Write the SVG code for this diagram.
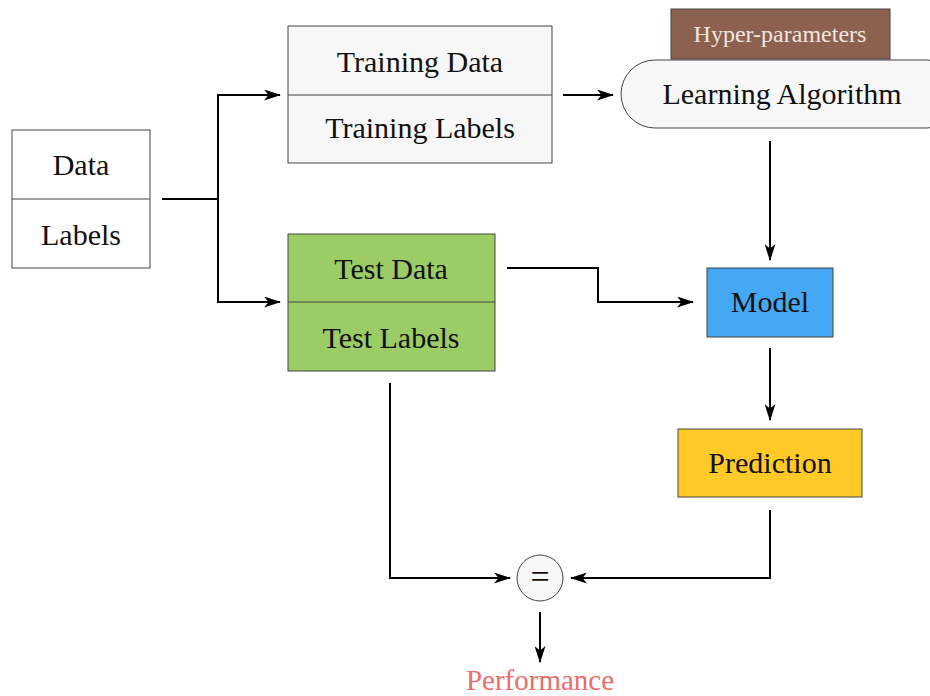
<svg xmlns="http://www.w3.org/2000/svg" width="930" height="696" viewBox="0 0 930 696">
<defs>
<marker id="ah" viewBox="0 0 17 11" refX="16" refY="5.5" markerWidth="17" markerHeight="11" markerUnits="userSpaceOnUse" orient="auto">
<path d="M0,0 L17,5.5 L0,11 L4.5,5.5 Z" fill="#000"/>
</marker>
<style>
.box{stroke:#444;stroke-width:1}
.t{font-family:"Liberation Serif","DejaVu Serif",serif;font-size:30px;fill:#111;text-anchor:middle;dominant-baseline:central}
.c{fill:none;stroke:#000;stroke-width:2;marker-end:url(#ah)}
.c0{fill:none;stroke:#000;stroke-width:2}
</style>
</defs>
<rect width="930" height="696" fill="#fff"/>
<g id="data">
<rect class="box" x="12" y="130" width="138" height="138" fill="#fff"/>
<line class="box" x1="12" y1="199" x2="150" y2="199"/>
<text class="t" x="81" y="164">Data</text>
<text class="t" x="81" y="234">Labels</text>
</g>
<g id="training">
<rect class="box" x="288" y="26" width="264" height="137" fill="#f7f7f7"/>
<line class="box" x1="288" y1="95" x2="552" y2="95"/>
<text class="t" x="420" y="61">Training Data</text>
<text class="t" x="420" y="127">Training Labels</text>
</g>
<g id="test">
<rect class="box" x="288" y="234" width="207" height="137" fill="#9ccc65"/>
<line class="box" x1="288" y1="302" x2="495" y2="302"/>
<text class="t" x="391" y="268">Test Data</text>
<text class="t" x="391" y="337">Test Labels</text>
</g>
<g id="hyper">
<rect class="box" x="671" y="9" width="219" height="50" fill="#8d6150"/>
<text class="t" x="780" y="34" style="font-size:24px;fill:#f2e6e0">Hyper-parameters</text>
</g>
<g id="learning">
<rect class="box" x="621" y="60" width="340" height="68" rx="34" fill="#f7f7f7"/>
<text class="t" x="782" y="93">Learning Algorithm</text>
</g>
<g id="model">
<rect class="box" x="707" y="268" width="126" height="69" fill="#45a8f5"/>
<text class="t" x="770" y="301">Model</text>
</g>
<g id="prediction">
<rect class="box" x="678" y="429" width="184" height="68" fill="#ffca28"/>
<text class="t" x="770" y="462">Prediction</text>
</g>
<g id="equals">
<circle class="box" cx="540" cy="578" r="23" fill="#f7f7f7"/>
<text class="t" x="540" y="576" style="font-size:34px">=</text>
</g>
<g id="performance">
<text class="t" x="540" y="680" style="fill:#f06b6b;font-size:29px">Performance</text>
</g>
<g id="connectors">
<polyline class="c0" points="162,199 218,199"/>
<polyline class="c" points="218,199 218,95 280,95"/>
<polyline class="c" points="218,199 218,302 280,302"/>
<line class="c" x1="563" y1="95" x2="613" y2="95"/>
<line class="c" x1="770" y1="141" x2="770" y2="260"/>
<polyline class="c" points="507,268 598,268 598,302 693,302"/>
<line class="c" x1="770" y1="348" x2="770" y2="420"/>
<polyline class="c" points="390,383 390,578 510,578"/>
<polyline class="c" points="770,510 770,578 571,578"/>
<line class="c" x1="540" y1="612" x2="540" y2="662"/>
</g>
</svg>
